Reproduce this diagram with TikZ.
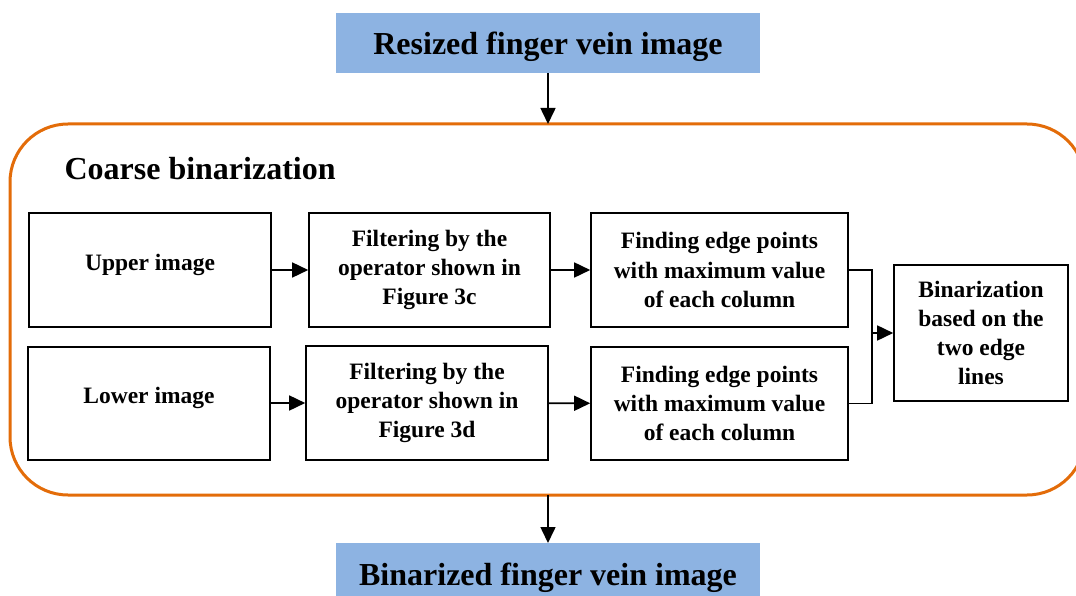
\documentclass[tikz,border=0pt]{standalone}
\usepackage{fontspec}
\setmainfont{Liberation Serif}
\usetikzlibrary{arrows.meta}
\definecolor{boxblue}{HTML}{8DB3E2}
\definecolor{frameorange}{HTML}{E36C09}
\tikzset{
  stepbox/.style={draw=black, line width=1.6pt, rectangle, align=center, inner sep=0pt,
    font=\fontsize{23.5}{29.3}\selectfont\bfseries},
  bluebox/.style={fill=boxblue, draw=none, rectangle, inner sep=0pt,
    minimum width=424pt, font=\fontsize{32}{36}\selectfont\bfseries},
  arr/.style={line width=1.6pt, -{Triangle[length=16pt,width=15pt]}},
  ln/.style={line width=1.6pt}
}
\begin{document}
\begin{tikzpicture}[x=1pt,y=-1pt]
\useasboundingbox (0,0) rectangle (1076,596);
% top and bottom boxes
\node[bluebox, minimum height=60pt, text height=23pt, text depth=0pt] (top) at (548,43) {Resized finger vein image};
\node[bluebox, minimum height=70pt, anchor=north] (bot) at (548,543) {};
\node[font=\fontsize{32}{36}\selectfont\bfseries] (bottxt) at (548,578) {Binarized finger vein image};
% orange frame
\draw[frameorange, line width=3pt, rounded corners=58pt] (10,124) rectangle (1085,495);
\coordinate (frametop) at (548,124);
\coordinate (framebot) at (548,495);
\node[anchor=west, font=\fontsize{32}{36}\selectfont\bfseries] (title) at (61,169) {Coarse binarization};
% step boxes
\node[stepbox, minimum width=242pt, minimum height=114pt] (up) at (150,270) {\raisebox{16pt}{Upper image}};
\node[stepbox, minimum width=242pt, minimum height=113pt] (lo) at (149,403.5) {\raisebox{16pt}{Lower image}};
\node[stepbox, minimum width=241pt, minimum height=114pt] (f1) at (429.5,270) {Filtering by the\\operator shown in\\Figure 3c};
\node[stepbox, minimum width=242pt, minimum height=114pt] (f2) at (427,403) {Filtering by the\\operator shown in\\Figure 3d};
\node[stepbox, minimum width=257pt, minimum height=114pt] (e1) at (719.5,270) {Finding edge points\\with maximum value\\of each column};
\node[stepbox, minimum width=257pt, minimum height=113pt] (e2) at (719.5,403.5) {Finding edge points\\with maximum value\\of each column};
\node[stepbox, minimum width=174pt, minimum height=136pt] (bin) at (981,333) {Binarization\\based on the\\two edge\\lines};
% connectors
\draw[arr] (top) -- (frametop);
\draw[arr] (framebot) -- (bot);
\draw[arr] (up) -- (f1);
\draw[arr] (lo.east |- f2) -- (f2);
\draw[arr] (f1) -- (e1);
\draw[arr] (f2) -- (e2);
\coordinate (j) at (872,333);
\draw[ln] (e1.east) -| (j);
\draw[ln] (e2.east) -| (j);
\draw[arr] (j) -- (bin);
\end{tikzpicture}
\end{document}
